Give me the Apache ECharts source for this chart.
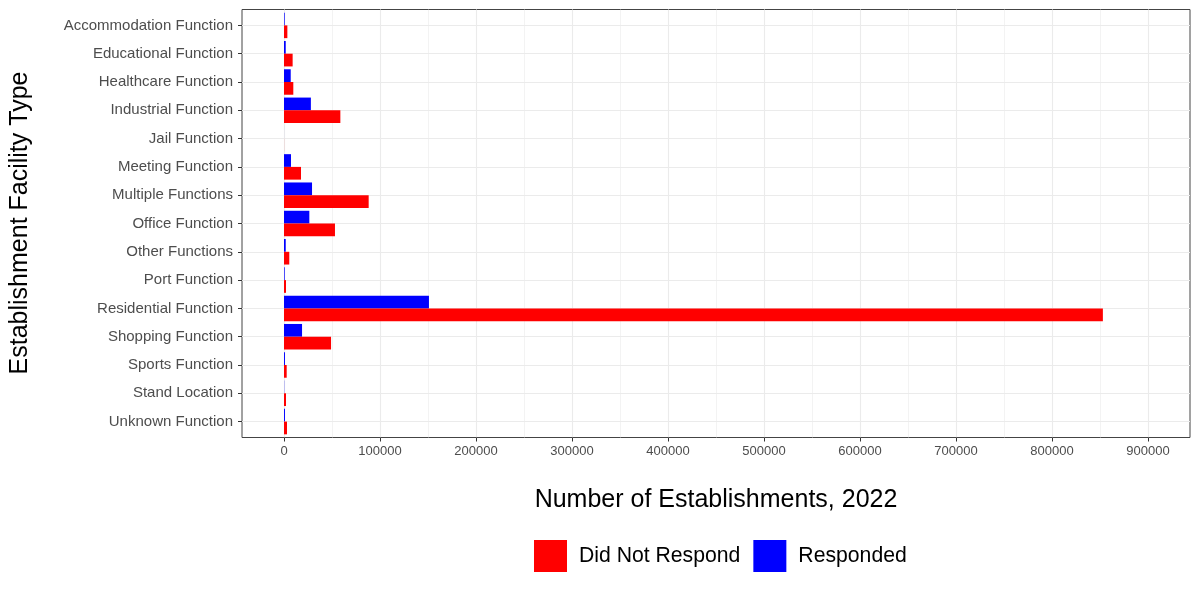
<!DOCTYPE html>
<html>
<head>
<meta charset="utf-8">
<script src="https://cdn.jsdelivr.net/npm/echarts@6/dist/echarts.min.js"></script>
<style>html,body{margin:0;padding:0;background:#fff}#c{width:1200px;height:600px}</style>
</head>
<body>
<div id="c"></div>
<script>
const categories = ['Accommodation Function','Educational Function','Healthcare Function','Industrial Function','Jail Function','Meeting Function','Multiple Functions','Office Function','Other Functions','Port Function','Residential Function','Shopping Function','Sports Function','Stand Location','Unknown Function'];
const didNotRespond = [3500, 9000, 9700, 58700, 60, 17700, 88200, 53100, 5500, 2100, 853000, 49000, 2800, 2100, 3100];
const responded = [700, 1800, 7000, 28000, 20, 7300, 29200, 26400, 1800, 700, 151000, 18800, 1000, 200, 1000];
const xMajorTicks = [0,100000,200000,300000,400000,500000,600000,700000,800000,900000];
const xMinorTicks = [50000,150000,250000,350000,450000,550000,650000,750000,850000];
const xTitle = 'Number of Establishments, 2022';
const yTitle = 'Establishment Facility Type';

const FONT = '"Liberation Sans", Arial, Helvetica, sans-serif';
const xMin = -43750, xMax = 943750;
// panel (grid 0) and category band area (grid 1), in pixels
const panelTop = 9.5, panelBottom = 162.5;
const firstCenter = 25.4, lastCenter = 421.6;
const band = (lastCenter - firstCenter) / (categories.length - 1);
const catTop = firstCenter - band/2, catBottom = 600 - (lastCenter + band/2);
const idx = categories.map((c,i)=>i);
const chart = echarts.init(document.getElementById('c'), null, {renderer:'canvas'});
chart.setOption({
  animation:false,
  backgroundColor:'#ffffff',
  textStyle:{fontFamily:FONT},
  grid:[
    {left:242,right:10,top:panelTop,bottom:panelBottom,containLabel:false,show:true,borderColor:'#444444',borderWidth:1,backgroundColor:'transparent'},
    {left:242,right:10,top:catTop,bottom:catBottom,containLabel:false,show:false}
  ],
  legend:{
    data:['Did Not Respond','Responded'],
    left:529, top:535, orient:'horizontal',
    itemWidth:33, itemHeight:32, itemGap:13,
    icon:'rect',
    textStyle:{fontSize:21.2,color:'#000000',fontFamily:FONT,padding:[0,0,0,7]}
  },
  xAxis:[{
    gridIndex:0, type:'value', min:xMin, max:xMax, position:'bottom',
    axisLine:{show:false,onZero:false},
    axisTick:{show:true,length:4,lineStyle:{color:'#333333',width:1},customValues:xMajorTicks},
    axisLabel:{color:'#4D4D4D',fontSize:13,margin:7,fontFamily:FONT,customValues:xMajorTicks,formatter:v=>String(v)},
    splitLine:{show:true,lineStyle:{color:'#EBEBEB',width:1.1}}
  },{
    gridIndex:0, type:'value', min:xMin, max:xMax, position:'bottom',
    axisLine:{show:false,onZero:false},
    axisTick:{show:false,customValues:xMinorTicks},
    axisLabel:{show:false,customValues:xMinorTicks},
    splitLine:{show:true,lineStyle:{color:'#EBEBEB',width:0.6}}
  },{
    gridIndex:1, type:'value', min:xMin, max:xMax, position:'bottom', show:false,
    axisLine:{show:false,onZero:false},
    splitLine:{show:false}
  }],
  yAxis:[{
    gridIndex:1, type:'value', min:-0.5, max:categories.length-0.5, inverse:true, position:'left',
    axisLine:{show:false,onZero:false},
    axisTick:{show:false,customValues:idx},
    axisLabel:{show:false,customValues:idx},
    splitLine:{show:true,lineStyle:{color:'#EBEBEB',width:1.1}}
  },{
    gridIndex:1, type:'category', data:categories, inverse:true, position:'left',
    axisLine:{show:false,onZero:false},
    axisTick:{show:true,alignWithLabel:true,length:4,lineStyle:{color:'#333333',width:1}},
    axisLabel:{color:'#4D4D4D',fontSize:15,margin:9,fontFamily:FONT,interval:0,padding:[3,0,0,0]},
    splitLine:{show:false}
  },{
    gridIndex:0, type:'value', min:0, max:1, position:'left',
    axisLine:{show:false,onZero:false}, axisTick:{show:false}, axisLabel:{show:false}, splitLine:{show:false}
  }],
  series:[
    {name:'Responded',type:'bar',data:responded,xAxisIndex:2,yAxisIndex:1,itemStyle:{color:'#0000FF'},barCategoryGap:'10%',barGap:'0%'},
    {name:'Did Not Respond',type:'bar',data:didNotRespond,xAxisIndex:2,yAxisIndex:1,itemStyle:{color:'#FF0000'},barCategoryGap:'10%',barGap:'0%'}
  ],
  graphic:[
    {type:'text',style:{text:xTitle,fontSize:25,fill:'#000',fontFamily:FONT,textAlign:'center',textVerticalAlign:'middle'},x:716,y:500},
    {type:'text',style:{text:yTitle,fontSize:25,fill:'#000',fontFamily:FONT,textAlign:'center',textVerticalAlign:'middle'},x:20,y:223,rotation:Math.PI/2}
  ]
});
</script>
</body>
</html>
